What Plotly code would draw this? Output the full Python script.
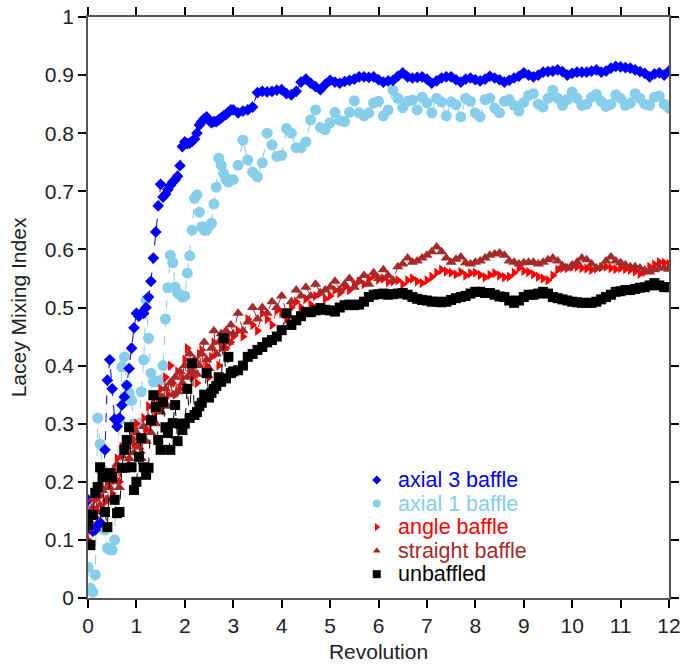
import plotly.graph_objects as go

# sampling grid (revolutions): 0..3 every 0.05, then 3.1..12 every 0.1
revolution = [round(i * 0.05, 2) for i in range(61)] + [round(3 + 0.1 * i, 1) for i in range(1, 91)]

axial3_early = [.169,.14,.115,.117,.125,.13,.148,.255,.375,.41,
                .36,.308,.295,.31,.332,.346,.366,.395,.43,.465,
                .49,.485,.49,.49,.50,.518,.545,.585,.63,.675,
                .712,.69,.695,.703,.71,.716,.72,.726,.744,.777,
                .785,.782,.783,.786,.79,.80,.814,.82,.825,.828,
                .822,.818,.82,.82,.823,.826,.83,.832,.836,.84,
                .84]
axial3_late = [.835,.838,.84,.845,.87,.872,.871,.872,.874,.875,
               .868,.866,.872,.888,.893,.886,.88,.875,.884,.891,
               .888,.886,.889,.891,.893,.897,.897,.896,.897,.892,
               .888,.89,.891,.898,.904,.897,.895,.896,.897,.893,
               .886,.89,.895,.897,.897,.892,.888,.893,.895,.892,
               .89,.893,.898,.895,.892,.888,.891,.895,.898,.904,
               .9,.897,.9,.905,.906,.907,.909,.906,.90,.903,
               .905,.905,.905,.907,.909,.905,.907,.912,.915,.914,
               .913,.912,.909,.906,.903,.897,.902,.904,.90,.907]

axial1_early = [.053,.017,.01,.04,.31,.265,.22,.117,.086,.083,
                .083,.10,.225,.306,.398,.415,.366,.353,.34,.30,
                .27,.30,.355,.41,.513,.447,.387,.372,.372,.373,
                .375,.40,.48,.534,.59,.577,.535,.525,.522,.518,
                .52,.559,.589,.633,.688,.694,.664,.639,.633,.633,
                .64,.645,.678,.707,.757,.745,.731,.72,.716,.72,
                .72]
axial1_late = [.745,.788,.754,.733,.725,.749,.80,.78,.76,.762,
               .808,.80,.775,.775,.785,.823,.84,.81,.806,.818,
               .836,.822,.82,.836,.856,.835,.83,.835,.852,.855,
               .83,.84,.874,.86,.844,.855,.857,.84,.862,.852,
               .835,.86,.854,.83,.854,.849,.828,.86,.855,.835,
               .828,.858,.86,.843,.835,.855,.858,.848,.838,.853,
               .865,.868,.85,.845,.86,.874,.86,.848,.858,.871,
               .86,.848,.85,.862,.867,.855,.846,.85,.866,.86,
               .848,.852,.868,.86,.85,.848,.862,.864,.85,.843]

angle_early = [.10,.13,.155,.17,.15,.175,.19,.165,.20,.21,
               .18,.22,.24,.20,.26,.25,.27,.23,.29,.265,
               .30,.28,.25,.31,.29,.33,.30,.345,.32,.34,
               .36,.33,.38,.35,.40,.37,.35,.39,.36,.38,
               .41,.43,.39,.38,.40,.37,.42,.427,.39,.40,
               .38,.415,.44,.42,.40,.43,.45,.43,.455,.44,
               .45]
angle_late = [.46,.45,.48,.47,.46,.49,.48,.47,.495,.49,
              .48,.50,.51,.50,.515,.505,.52,.525,.515,.52,
              .53,.525,.535,.53,.54,.545,.54,.55,.555,.548,
              .55,.544,.545,.547,.54,.547,.55,.545,.542,.547,
              .553,.56,.565,.562,.56,.557,.561,.555,.559,.56,
              .556,.552,.556,.559,.555,.552,.553,.56,.568,.563,
              .561,.557,.553,.55,.547,.555,.565,.568,.568,.57,
              .57,.568,.567,.565,.567,.569,.57,.568,.566,.568,
              .566,.565,.562,.558,.561,.57,.574,.578,.577,.575]

straight_early = [.12,.15,.17,.14,.18,.16,.185,.205,.17,.19,
                  .215,.20,.23,.19,.245,.22,.26,.24,.275,.25,
                  .285,.26,.24,.295,.27,.31,.285,.33,.30,.35,
                  .32,.345,.36,.33,.37,.35,.38,.355,.39,.37,
                  .40,.38,.42,.39,.41,.385,.40,.42,.44,.41,
                  .395,.43,.46,.42,.44,.455,.43,.46,.44,.47,
                  .455]
straight_late = [.49,.46,.475,.50,.48,.50,.49,.51,.50,.52,
                 .49,.51,.53,.52,.535,.52,.54,.525,.53,.535,
                 .545,.53,.54,.55,.535,.545,.555,.54,.56,.55,
                 .565,.555,.547,.57,.575,.585,.578,.58,.585,.59,
                 .596,.604,.596,.585,.578,.583,.587,.577,.575,.578,
                 .58,.585,.59,.592,.594,.59,.58,.578,.575,.577,
                 .578,.578,.575,.578,.582,.585,.58,.572,.568,.573,
                 .578,.585,.582,.575,.568,.57,.58,.587,.58,.577,
                 .573,.57,.57,.568,.564,.561,.565,.568,.568,.566]

unbaffled_early = [.126,.091,.143,.181,.191,.225,.208,.148,.122,.215,
                   .208,.169,.146,.148,.224,.255,.272,.294,.225,.186,
                   .20,.243,.275,.225,.212,.224,.306,.349,.329,.272,
                   .255,.337,.294,.284,.255,.301,.332,.27,.30,.289,
                   .30,.36,.31,.404,.315,.32,.33,.336,.35,.387,
                   .345,.353,.36,.365,.38,.372,.447,.378,.415,.387,
                   .39]
unbaffled_late = [.392,.40,.415,.42,.427,.432,.44,.444,.45,.461,
                  .49,.47,.478,.485,.492,.492,.495,.499,.496,.495,
                  .493,.50,.504,.505,.504,.505,.51,.518,.522,.523,
                  .524,.522,.523,.524,.525,.522,.518,.515,.513,.512,
                  .51,.51,.509,.51,.513,.516,.518,.52,.524,.527,
                  .527,.525,.525,.522,.519,.518,.512,.508,.512,.518,
                  .522,.522,.524,.527,.524,.518,.516,.514,.512,.51,
                  .509,.508,.508,.508,.51,.514,.518,.522,.527,.528,
                  .53,.53,.532,.534,.535,.538,.542,.538,.535,.535]

series_names = ["axial 3 baffle", "axial 1 baffle", "angle baffle", "straight baffle", "unbaffled"]
series_values = [axial3_early + axial3_late, axial1_early + axial1_late,
                 angle_early + angle_late, straight_early + straight_late,
                 unbaffled_early + unbaffled_late]
x_ticks = list(range(0, 13))
y_ticks = [0, 0.1, 0.2, 0.3, 0.4, 0.5, 0.6, 0.7, 0.8, 0.9, 1]

colors = ["#0000FF", "#87CEEB", "#FF0000", "#A52A2A", "#000000"]
symbols = ["diamond", "circle", "triangle-right", "triangle-up", "square"]
sizes = [9, 11, 9, 10, 10]
legend_sizes = [7, 8, 7, 7, 8]

# legend layout (fractions of the plot area)
LEG_MARKER_X = 0.497
LEG_TEXT_X = 0.530
LEG_TOP_Y = 0.203
LEG_STEP = 0.0405

FONT = "Liberation Sans, Arial, sans-serif"
TXT = "#222222"
fig = go.Figure()

draw_order = [1, 0, 2, 3, 4]
for i in draw_order:
    fig.add_trace(go.Scatter(
        x=revolution, y=series_values[i], mode="lines+markers",
        line=dict(color=colors[i], width=1, dash="dash"),
        marker=dict(symbol=symbols[i], size=sizes[i], color=colors[i], line=dict(width=0)),
        showlegend=False, name=series_names[i]))

# custom legend: markers on an overlay axis spanning [0,1], text as annotations
leg_y = [LEG_TOP_Y - k * LEG_STEP for k in range(5)]
for i in range(5):
    fig.add_trace(go.Scatter(
        x=[LEG_MARKER_X], y=[leg_y[i]], mode="markers", xaxis="x2", yaxis="y2",
        marker=dict(symbol=symbols[i], size=legend_sizes[i], color=colors[i]),
        showlegend=False, hoverinfo="skip"))
    fig.add_annotation(x=LEG_TEXT_X, y=leg_y[i], xref="paper", yref="paper",
                       text=series_names[i], showarrow=False, xanchor="left", yanchor="middle",
                       font=dict(family=FONT, size=21.5, color=colors[i]))

axis_common = dict(showline=True, linecolor="#555555", linewidth=1.5, mirror="ticks",
                   ticks="outside", ticklen=8, tickwidth=1.5, tickcolor="#000000",
                   showgrid=False, zeroline=False, automargin=False,
                   tickfont=dict(family=FONT, size=21, color=TXT))

fig.update_xaxes(range=[0, 12], tickvals=x_ticks, **axis_common,
                 title=dict(text="Revolution", font=dict(family=FONT, size=21, color=TXT), standoff=8))
fig.update_yaxes(range=[0, 1], tickvals=y_ticks, **axis_common,
                 title=dict(text="Lacey Mixing Index", font=dict(family=FONT, size=21, color=TXT), standoff=12))

fig.update_layout(
    width=685, height=668,
    margin=dict(l=88, r=16, t=17, b=70, autoexpand=False),
    plot_bgcolor="white", paper_bgcolor="white",
    showlegend=False,
    xaxis2=dict(overlaying="x", range=[0, 1], visible=False, fixedrange=True),
    yaxis2=dict(overlaying="y", range=[0, 1], visible=False, fixedrange=True),
)

fig.write_html("out.html")
